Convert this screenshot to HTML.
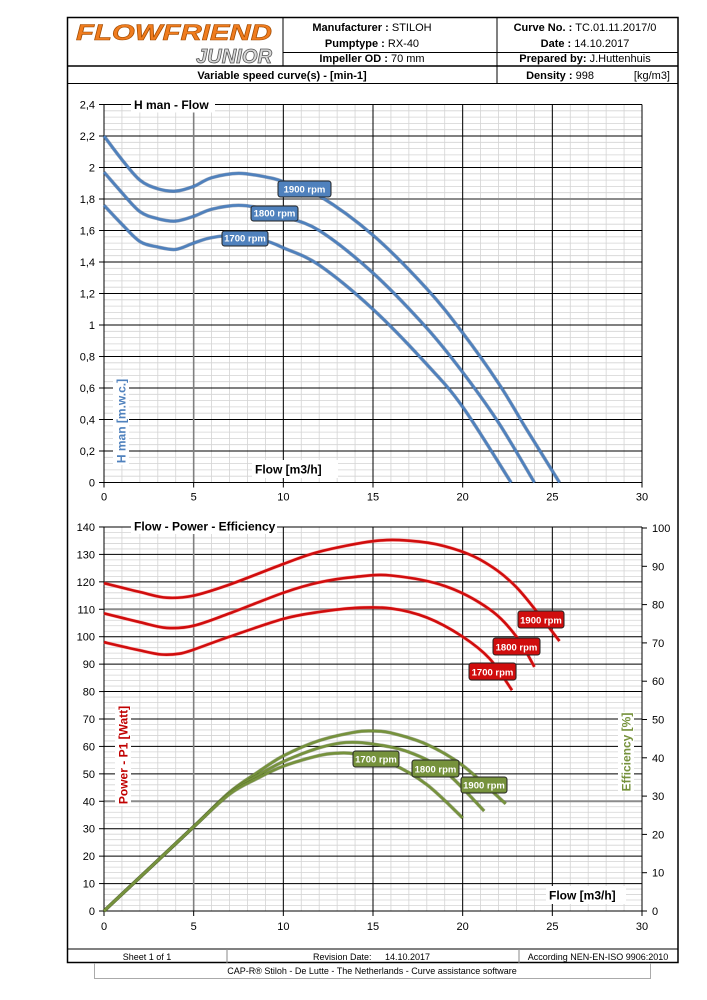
<!DOCTYPE html>
<html><head><meta charset="utf-8">
<style>
html,body{margin:0;padding:0;background:#fff;width:707px;height:1000px;overflow:hidden}
svg{display:block}
text{font-family:"Liberation Sans",sans-serif}
</style></head>
<body>
<svg id="s" width="707" height="1000" viewBox="0 0 707 1000" xmlns="http://www.w3.org/2000/svg">
<rect x="0" y="0" width="707" height="1000" fill="#fff"/>
<g id="grid"></g>
<g id="curves"></g>
<g id="over"></g>
</svg>
<script>
const NS="http://www.w3.org/2000/svg";
function el(parent,tag,attrs,txt){const e=document.createElementNS(NS,tag);for(const k in attrs)e.setAttribute(k,attrs[k]);if(txt!==undefined)e.textContent=txt;document.getElementById(parent).appendChild(e);return e;}
const X0=104,XS=538/30;
const fx=v=>X0+v*XS;
const H0=482.5,HS=31.5/0.2;const fh=v=>H0-v*HS;
const P0=911,PS=27.43/10;const fp=v=>P0-v*PS;
const E0=911,ES=383/100;const fe=v=>E0-v*ES;

// chart 1 grid
for(let i=0;i<=30;i++){const x=fx(i);el('grid','line',{x1:x,y1:fh(2.4),x2:x,y2:fh(0),stroke:'#d4d4d4','stroke-width':0.8});}
for(let i=0;i<=60;i++){const y=fh(i*0.04);el('grid','line',{x1:X0,y1:y,x2:fx(30),y2:y,stroke:'#d4d4d4','stroke-width':0.8});}
for(let i=1;i<=12;i++){const y=fh(i*0.2);el('grid','line',{x1:X0,y1:y,x2:fx(30),y2:y,stroke:i==9?'#8c8c8c':'#000','stroke-width':i==9?2:1});}
for(let i=1;i<=6;i++){const x=fx(i*5);el('grid','line',{x1:x,y1:fh(2.4),x2:x,y2:fh(0),stroke:i==1?'#7f7f7f':'#000','stroke-width':i==1?1.6:1});}
el('grid','line',{x1:X0,y1:fh(2.4),x2:X0,y2:fh(0)+0.5,stroke:'#000','stroke-width':1});
el('grid','line',{x1:X0,y1:fh(0),x2:fx(30),y2:fh(0),stroke:'#000','stroke-width':1});
for(let i=0;i<=12;i++){const y=fh(i*0.2);el('grid','line',{x1:X0-5,y1:y,x2:X0,y2:y,stroke:'#000'});
  el('grid','text',{x:X0-9,y:y+4,'font-size':11,'text-anchor':'end'},(i*0.2).toFixed(1).replace('.',',').replace(/,0$/,''));}
for(let i=0;i<=6;i++){const x=fx(i*5);el('grid','line',{x1:x,y1:fh(0),x2:x,y2:fh(0)+5,stroke:'#000'});
  el('grid','text',{x:x,y:fh(0)+18,'font-size':11,'text-anchor':'middle'},i*5);}
// chart 2 grid
for(let i=0;i<=30;i++){const x=fx(i);el('grid','line',{x1:x,y1:fp(140),x2:x,y2:fp(0),stroke:'#d4d4d4','stroke-width':0.8});}
for(let i=0;i<=70;i++){const y=fp(i*2);el('grid','line',{x1:X0,y1:y,x2:fx(30),y2:y,stroke:'#d4d4d4','stroke-width':0.8});}
for(let i=1;i<=14;i++){const y=fp(i*10);const g=(i==11||i==4);el('grid','line',{x1:X0,y1:y,x2:fx(30),y2:y,stroke:g?'#8c8c8c':'#000','stroke-width':g?2:1});}
for(let i=1;i<=6;i++){const x=fx(i*5);el('grid','line',{x1:x,y1:fp(140),x2:x,y2:fp(0),stroke:i==1?'#7f7f7f':'#000','stroke-width':i==1?1.6:1});}
el('grid','line',{x1:X0,y1:fp(140),x2:X0,y2:fp(0)+0.5,stroke:'#000'});
el('grid','line',{x1:fx(30),y1:fe(100),x2:fx(30),y2:fp(0)+0.5,stroke:'#000'});
el('grid','line',{x1:X0,y1:fp(0),x2:fx(30),y2:fp(0),stroke:'#000'});
for(let i=0;i<=14;i++){const y=fp(i*10);el('grid','line',{x1:X0-5,y1:y,x2:X0,y2:y,stroke:'#000'});
  el('grid','text',{x:X0-9,y:y+4,'font-size':11,'text-anchor':'end'},i*10);}
for(let i=0;i<=10;i++){const y=fe(i*10);el('grid','line',{x1:fx(30),y1:y,x2:fx(30)+5,y2:y,stroke:'#000'});
  el('grid','text',{x:fx(30)+10,y:y+4,'font-size':11,'text-anchor':'start'},i*10);}
for(let i=0;i<=6;i++){const x=fx(i*5);el('grid','line',{x1:x,y1:fp(0),x2:x,y2:fp(0)+5,stroke:'#000'});
  el('grid','text',{x:x,y:fp(0)+19,'font-size':11,'text-anchor':'middle'},i*5);}

function path(pts){let d='M'+pts[0][0].toFixed(1)+','+pts[0][1].toFixed(1);
  for(let i=0;i<pts.length-1;i++){const p0=pts[Math.max(0,i-1)],p1=pts[i],p2=pts[i+1],p3=pts[Math.min(pts.length-1,i+2)];
    const c1=[p1[0]+(p2[0]-p0[0])/6,p1[1]+(p2[1]-p0[1])/6],c2=[p2[0]-(p3[0]-p1[0])/6,p2[1]-(p3[1]-p1[1])/6];
    d+=' C'+c1.map(v=>v.toFixed(1)).join(',')+' '+c2.map(v=>v.toFixed(1)).join(',')+' '+p2.map(v=>v.toFixed(1)).join(',');}
  return d;}
function curve(data,fy,col,edge){const pts=data.map(p=>[fx(p[0]),fy(p[1])]);const d=path(pts);
  el('curves','path',{d:d,fill:'none',stroke:edge,'stroke-width':3.6,'stroke-opacity':0.45});
  el('curves','path',{d:d,fill:'none',stroke:col,'stroke-width':2.6});}
const blue='#4f81bd',red='#d00d0d',green='#76923c';
curve([[0,2.2],[1,2.05],[2,1.92],[3,1.865],[4,1.85],[5,1.88],[6,1.935],[7.5,1.963],[9,1.94],[10,1.91],[12,1.82],[15,1.57],[18,1.23],[20,0.95],[22,0.63],[23.5,0.35],[25.4,0]],fh,blue,'#1f3f6f');
curve([[0,1.97],[1,1.84],[2,1.72],[3,1.675],[4,1.66],[5,1.69],[6,1.735],[7.5,1.76],[9,1.735],[10,1.69],[12,1.6],[15,1.33],[18,0.98],[20,0.7],[22,0.38],[24,0]],fh,blue,'#1f3f6f');
curve([[0,1.76],[1,1.64],[2,1.53],[3,1.495],[4,1.48],[5,1.52],[6,1.555],[7.5,1.57],[9,1.535],[10,1.49],[12,1.38],[15,1.1],[18,0.75],[20,0.48],[22.7,0]],fh,blue,'#1f3f6f');
curve([[0,119.5],[2,116.3],[3.5,114.2],[5,115],[7,119],[10,126.5],[12,131],[15,134.8],[17,135],[19,133],[21,128],[23,118],[25.4,98.4]],fp,red,'#ff6060');
curve([[0,108.5],[2,105.3],[3.5,103.2],[5,104],[7,108.5],[10,116],[12,119.8],[14,121.8],[16,122.3],[19,118.5],[21.5,110],[23,100],[24,89]],fp,red,'#ff6060');
curve([[0,98],[2,95],[3.2,93.5],[4.2,93.8],[5,95.3],[7,100],[10,106.5],[12,109],[14,110.5],[16,110.3],[18,107],[20,100],[21.5,92],[22.75,80.5]],fp,red,'#ff6060');
curve([[0,0],[2.5,11],[5,22],[7,31],[8.5,36],[10,40.5],[12,44.5],[14,46.7],[15,47],[16,46.5],[18,43.5],[20,38],[22.4,28]],fe,green,'#3f5020');
curve([[0,0],[2.5,11],[5,22],[7,30.8],[8.5,35.2],[10,39],[12,42.6],[13.5,44],[15,43.6],[17,41.5],[19,36.5],[21.2,26.1]],fe,green,'#3f5020');
curve([[0,0],[2.5,11],[5,22],[7,30.5],[8.5,34.5],[10,37.8],[12,40.6],[13,41.2],[14,41],[16,38.5],[18,33],[20,24.3]],fe,green,'#3f5020');

function lbl(x1,y1,x2,y2,fill,t){el('over','rect',{x:x1,y:y1,width:x2-x1,height:y2-y1,rx:2.5,fill:fill,stroke:'#222','stroke-width':1});
  el('over','text',{x:(x1+x2)/2,y:y2-4.5,'font-size':9.5,'font-weight':'bold',fill:'#fff','text-anchor':'middle'},t);}
lbl(278,181,331,197,blue,'1900 rpm');lbl(251,206,298,221,blue,'1800 rpm');lbl(222,231,268,246,blue,'1700 rpm');
lbl(518,611,564,628,red,'1900 rpm');lbl(493,638,540,655,red,'1800 rpm');lbl(469,663,516,680,red,'1700 rpm');
lbl(353,751,399,767,green,'1700 rpm');lbl(412,760,459,777,green,'1800 rpm');lbl(461,777,507,793,green,'1900 rpm');

function wtext(x,y,w,h,t,size,anchor,col,rot){
  if(rot){const g=el('over','g',{transform:'translate('+x+','+y+') rotate(-90)'});
    const r=document.createElementNS(NS,'rect');r.setAttribute('x',-w/2);r.setAttribute('y',-h/2);r.setAttribute('width',w);r.setAttribute('height',h);r.setAttribute('fill','#fff');g.appendChild(r);
    const tt=document.createElementNS(NS,'text');tt.setAttribute('x',0);tt.setAttribute('y',size*0.36);tt.setAttribute('font-size',size);tt.setAttribute('font-weight','bold');tt.setAttribute('fill',col);tt.setAttribute('text-anchor','middle');tt.textContent=t;g.appendChild(tt);return;}
  el('over','rect',{x:x,y:y-h/2,width:w,height:h,fill:'#fff'});
  el('over','text',{x:x+3,y:y+size*0.36,'font-size':size,'font-weight':'bold',fill:col},t);}
wtext(131,104.5,84,16,'H man - Flow',12,'start','#000');
wtext(131,526,146,16,'Flow - Power - Efficiency',12,'start','#000');
wtext(252,469,86,18,'Flow [m3/h]',12,'start','#000');
wtext(546,895,80,18,'Flow [m3/h]',12,'start','#000');
wtext(121,421,88,16,'H man [m.w.c.]',12,'middle','#4f81bd',true);
wtext(123,755,102,16,'Power - P1 [Watt]',12,'middle','#c00000',true);
wtext(626,752,80,16,'Efficiency  [%]',12,'middle','#76923c',true);

const o='over';
el(o,'rect',{x:67.5,y:17.5,width:610.5,height:945,fill:'none',stroke:'#000','stroke-width':1.5});
el(o,'line',{x1:283,y1:17,x2:283,y2:66,stroke:'#000'});
el(o,'line',{x1:497,y1:17,x2:497,y2:83,stroke:'#000'});
el(o,'line',{x1:283,y1:52.5,x2:678,y2:52.5,stroke:'#000'});
el(o,'line',{x1:67,y1:66,x2:678,y2:66,stroke:'#000','stroke-width':1.5});
el(o,'line',{x1:67,y1:83.5,x2:678,y2:83.5,stroke:'#000'});
const hb=(x,y,a,b)=>{const t=el(o,'text',{x:x,y:y,'font-size':11,'text-anchor':'middle'});
  const s1=document.createElementNS(NS,'tspan');s1.setAttribute('font-weight','bold');s1.textContent=a;t.appendChild(s1);
  const s2=document.createElementNS(NS,'tspan');s2.textContent=b;t.appendChild(s2);};
hb(372,31,'Manufacturer : ','STILOH');hb(372,47,'Pumptype : ','RX-40');hb(372,62,'Impeller OD : ','70 mm');
hb(585,31,'Curve No. : ','TC.01.11.2017/0');hb(585,47,'Date : ','14.10.2017');hb(585,62,'Prepared by: ','J.Huttenhuis');
el(o,'text',{x:282,y:79,'font-size':11,'font-weight':'bold','text-anchor':'middle'},'Variable speed curve(s) -  [min-1]');
hb(560,79,'Density : ','998');
el(o,'text',{x:670,y:79,'font-size':11,'text-anchor':'end'},'[kg/m3]');
el(o,'text',{x:76,y:40,'font-size':22,'font-weight':'bold','font-style':'italic',fill:'#f07c1e',stroke:'#a04a00','stroke-width':0.6,'textLength':196,lengthAdjust:'spacingAndGlyphs'},'FLOWFRIEND');
el(o,'text',{x:196,y:63,'font-size':20,'font-style':'italic','font-weight':'bold',fill:'#d8d8d8',stroke:'#555','stroke-width':0.8,'textLength':76,lengthAdjust:'spacingAndGlyphs'},'JUNIOR');
el(o,'line',{x1:67,y1:949,x2:678,y2:949,stroke:'#000'});
el(o,'line',{x1:227,y1:949,x2:227,y2:963,stroke:'#888'});
el(o,'line',{x1:519,y1:949,x2:519,y2:963,stroke:'#888'});
el(o,'text',{x:147,y:960,'font-size':9,'text-anchor':'middle'},'Sheet 1 of 1');
el(o,'text',{x:313,y:960,'font-size':9},'Revision Date:');
el(o,'text',{x:385,y:960,'font-size':9},'14.10.2017');
el(o,'text',{x:598,y:960,'font-size':9,'text-anchor':'middle'},'According NEN-EN-ISO 9906:2010');
el(o,'polyline',{points:'94.5,963 94.5,978.5 650.5,978.5 650.5,963',fill:'none',stroke:'#aaa'});
el(o,'text',{x:372,y:974,'font-size':9,'text-anchor':'middle'},'CAP-R®  Stiloh - De Lutte - The Netherlands - Curve assistance software');
// slight horizontal condensation of all text to mimic narrow font
document.querySelectorAll('text').forEach(t=>{});
</script>
</body></html>
